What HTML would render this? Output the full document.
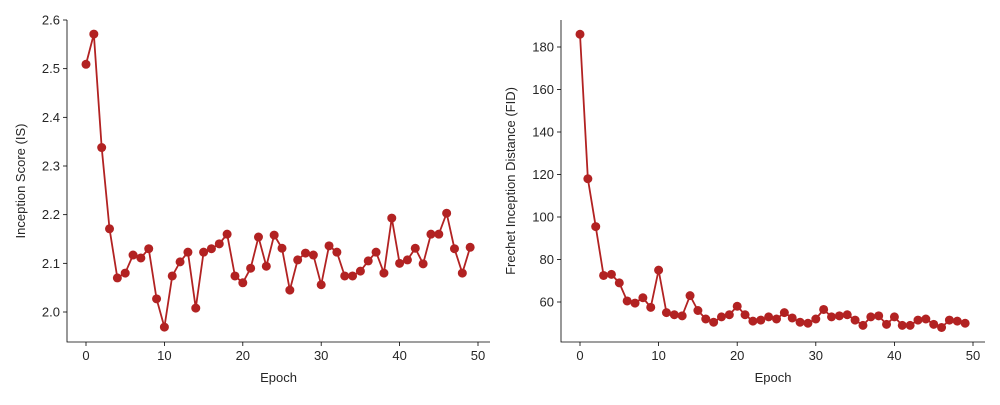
<!DOCTYPE html>
<html><head><meta charset="utf-8"><style>
body{margin:0;background:#fff}
svg text{font-family:"Liberation Sans",sans-serif;font-size:13px;fill:#262626}
</style></head><body>
<svg id="c" width="1000" height="400"></svg>
<script>
const epochs=[...Array(50).keys()];
const isValues=[2.509,2.571,2.338,2.171,2.070,2.080,2.117,2.111,2.130,2.027,1.969,2.074,2.103,2.123,2.008,2.123,2.130,2.140,2.160,2.074,2.060,2.090,2.154,2.094,2.158,2.131,2.045,2.107,2.121,2.117,2.056,2.136,2.123,2.074,2.074,2.084,2.105,2.123,2.080,2.193,2.100,2.107,2.131,2.099,2.160,2.160,2.203,2.130,2.080,2.133];
const fidValues=[186,118,95.5,72.5,73,69,60.5,59.5,62,57.5,75,55,54,53.5,63,56,52,50.5,53,54,58,54,51,51.5,53,52,55,52.5,50.5,50,52,56.5,53,53.5,54,51.5,49,53,53.5,49.5,53,49,49,51.5,52,49.5,48,51.5,51,50];
const xTicks=[0,10,20,30,40,50];
const isTicks=[2.0,2.1,2.2,2.3,2.4,2.5,2.6];
const fidTicks=[60,80,100,120,140,160,180];
const NS="http://www.w3.org/2000/svg";
const svg=document.getElementById('c');
function mk(t,a,p){const e=document.createElementNS(NS,t);for(const k in a)e.setAttribute(k,a[k]);(p||svg).appendChild(e);return e;}
function panel(o){
  const g=mk('g',{});
  
  
  const sx=v=>o.x0+(v-0)*(o.x50-o.x0)/50;
  const sy=v=>o.yA+(v-o.vA)*(o.yB-o.yA)/(o.vB-o.vA);
  const ax=mk('path',{d:`M${o.L},${o.T}V${o.B}H${o.R}`,stroke:'#000','stroke-width':0.8,fill:'none'},g);
  
  xTicks.forEach(t=>{const x=sx(t);mk('line',{x1:x,x2:x,y1:o.B,y2:o.B+4,stroke:'#000','stroke-width':0.8},g);
    const tx=mk('text',{x:x,y:o.B+18,'text-anchor':'middle'},g);tx.textContent=t;
    });
  o.ticks.forEach(t=>{const y=sy(t);mk('line',{x1:o.L-4,x2:o.L,y1:y,y2:y,stroke:'#000','stroke-width':0.8},g);
    const tx=mk('text',{x:o.L-7,y:y+4.5,'text-anchor':'end'},g);tx.textContent=o.fmt(t);
    });
  const xl=mk('text',{x:(o.L+o.R)/2,y:382,'text-anchor':'middle'},g);xl.textContent='Epoch';
  
  const yl=mk('text',{x:0,y:0,'text-anchor':'middle',transform:`translate(${o.ylx},${(o.T+o.B)/2}) rotate(-90)`},g);yl.textContent=o.ylabel;
  
  const pts=o.data.map((v,i)=>[sx(epochs[i]),sy(v)]);
  const ln=mk('polyline',{points:pts.map(p=>p.join(',')).join(' '),fill:'none',stroke:'#b22222','stroke-width':1.8},g);
  
  pts.forEach(p=>{const c=mk('circle',{cx:p[0],cy:p[1],r:4.5,fill:'#b22222'},g);
    });
}
panel({name:'inception-score-panel',L:67,R:490,T:20,B:342,x0:86,x50:478,vA:2.0,yA:312,vB:2.6,yB:20,ticks:isTicks,fmt:t=>t.toFixed(1),data:isValues,ylabel:'Inception Score (IS)',ylx:25});
panel({name:'fid-panel',L:561,R:985,T:20,B:342,x0:580,x50:973,vA:60,yA:302,vB:180,yB:47,ticks:fidTicks,fmt:t=>t,data:fidValues,ylabel:'Frechet Inception Distance (FID)',ylx:515});
</script>
</body></html>
